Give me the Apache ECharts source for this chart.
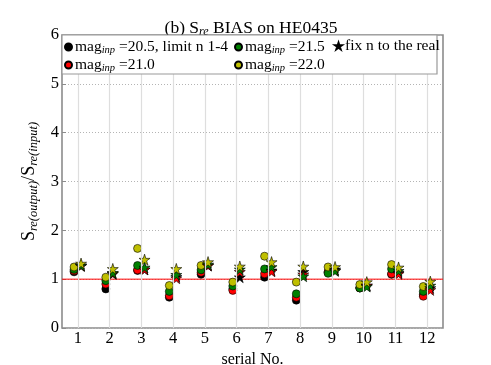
<!DOCTYPE html>
<html>
<head>
<meta charset="utf-8">
<script src="https://cdn.jsdelivr.net/npm/echarts@6/dist/echarts.min.js"></script>
<style>
  html, body { margin: 0; padding: 0; background: #fff; }
  #chart { width: 491px; height: 365px; }
</style>
</head>
<body>
<div id="chart"></div>
<script>
// serial numbers
const serial = [1, 2, 3, 4, 5, 6, 7, 8, 9, 10, 11, 12];
const yTicks = [0, 1, 2, 3, 4, 5, 6];
const unity = 1;

// circles: S_re(output)/S_re(input), n free
const mag205 = [1.15, 0.80, 1.18, 0.63, 1.10, 0.80, 1.04, 0.57, 1.14, 0.82, 1.10, 0.68];
const mag210 = [1.17, 0.90, 1.19, 0.66, 1.14, 0.77, 1.11, 0.63, 1.15, 0.82, 1.11, 0.65];
const mag215 = [1.20, 0.97, 1.28, 0.75, 1.19, 0.86, 1.21, 0.70, 1.12, 0.82, 1.21, 0.75];
const mag220 = [1.25, 1.04, 1.63, 0.87, 1.28, 0.94, 1.47, 0.94, 1.25, 0.89, 1.30, 0.85];

// stars: n fixed to the real value
const fix205 = [1.28, 1.11, 1.20, 1.05, 1.28, 1.04, 1.18, 1.15, 1.20, 0.87, 1.13, 0.82];
const fix210 = [1.27, 1.12, 1.20, 1.02, 1.28, 1.15, 1.16, 1.10, 1.18, 0.87, 1.11, 0.78];
const fix215 = [1.28, 1.13, 1.24, 1.09, 1.30, 1.20, 1.25, 1.06, 1.17, 0.85, 1.17, 0.87];
const fix220 = [1.32, 1.21, 1.40, 1.21, 1.35, 1.26, 1.35, 1.26, 1.25, 0.94, 1.24, 0.95];

const FONT = '"Liberation Serif", "DejaVu Serif", serif';
const STAR = 'path://M50 0 L61.17 34.63 L97.55 34.55 L68.07 55.87 L79.39 90.45 L50 69 L20.61 90.45 L31.93 55.87 L2.45 34.55 L38.83 34.63 Z';

const colors = { k: '#000000', r: '#ff0000', g: '#008000', y: '#bfbf00' };

function pts(vals, dx) {
  return vals.map((v, i) => [serial[i] + dx, v]);
}

function circleSeries(name, vals, color) {
  return {
    name: name,
    type: 'scatter',
    symbol: 'circle',
    symbolSize: 8,
    data: pts(vals, -0.12),
    itemStyle: { color: color, borderColor: '#000', borderWidth: 0.6, opacity: 1 },
    emphasis: { disabled: true },
    z: 3
  };
}

function starSeries(name, vals, color) {
  return {
    name: name,
    type: 'scatter',
    symbol: STAR,
    symbolSize: 11,
    data: pts(vals, 0.1),
    itemStyle: { color: color, borderColor: '#000', borderWidth: 0.6, opacity: 1 },
    emphasis: { disabled: true },
    z: 4
  };
}

const legendRich = {
  n: { fontFamily: FONT, fontSize: 15.5, color: '#000', lineHeight: 18 },
  s: { fontFamily: FONT, fontSize: 10.5, fontStyle: 'italic', color: '#000', lineHeight: 18, padding: [7, 0, 0, 0] }
};

const legendText = {
  'm205': '{n|mag}{s|inp}{n| =20.5, limit n 1-4}',
  'm210': '{n|mag}{s|inp}{n| =21.0}',
  'm215': '{n|mag}{s|inp}{n| =21.5}',
  'm220': '{n|mag}{s|inp}{n| =22.0}',
  'fix': '{n|fix n to the real}'
};

function legendAt(left, names, w) {
  return {
    left: left,
    top: 38,
    orient: 'vertical',
    padding: 0,
    itemWidth: w,
    itemHeight: w,
    itemGap: 0,
    z: 20,
    selectedMode: false,
    data: names,
    formatter: name => legendText[name],
    textStyle: { rich: legendRich, padding: [0, 0, 0, -2] }
  };
}

const chart = echarts.init(document.getElementById('chart'));
chart.setOption({
  animation: false,
  backgroundColor: '#fff',
  title: {
    text: '(b) S{s|re} BIAS on HE0435',
    left: 251,
    top: 19,
    padding: 0,
    textAlign: 'center',
    textStyle: {
      fontFamily: FONT, fontSize: 17.5, fontWeight: 'normal', color: '#000', lineHeight: 18,
      rich: {
        s: { fontFamily: FONT, fontSize: 12, fontStyle: 'italic', color: '#000', lineHeight: 18, padding: [8, 0, 0, 0] }
      }
    }
  },
  graphic: [{
    type: 'rect',
    z: 10,
    shape: { x: 62, y: 35, width: 375, height: 39 },
    style: { fill: '#fff', stroke: '#999', lineWidth: 1.2 }
  }],
  legend: [
    legendAt(64, [{ name: 'm205', icon: 'circle' }, { name: 'm210', icon: 'circle' }], 7),
    legendAt(234, [{ name: 'm215', icon: 'circle' }, { name: 'm220', icon: 'circle' }], 7),
    legendAt(334, [{ name: 'fix', icon: STAR, itemStyle: { color: '#000' } }], 7)
  ],
  grid: {
    left: 62, right: 48, top: 35, bottom: 37,
    outerBoundsMode: 'none',
    containLabel: false,
    show: true, borderColor: '#8c8c8c', borderWidth: 1.6
  },
  xAxis: {
    type: 'value',
    min: 0.5,
    max: 12.5,
    name: 'serial No.',
    nameLocation: 'middle',
    nameGap: 16,
    nameTextStyle: { fontFamily: FONT, fontSize: 16, color: '#000' },
    axisLine: { show: false },
    axisTick: { show: true, inside: true, length: 4, customValues: serial, lineStyle: { color: '#8c8c8c' } },
    axisLabel: {
      fontFamily: FONT, fontSize: 16.5, color: '#000', margin: 2,
      customValues: serial
    },
    splitLine: { show: false }
  },
  yAxis: {
    type: 'value',
    min: 0,
    max: 6,
    interval: 1,
    name: 'S{s|re(output)}/S{s|re(input)}',
    nameLocation: 'middle',
    nameGap: 21,
    nameTextStyle: {
      fontFamily: FONT, fontSize: 18, color: '#000', lineHeight: 20,
      rich: {
        s: { fontFamily: FONT, fontSize: 12.5, fontStyle: 'italic', color: '#000', lineHeight: 20, padding: [8, 0, 0, 0] }
      }
    },
    axisLine: { show: false },
    axisTick: { show: true, inside: true, length: 4, lineStyle: { color: '#8c8c8c' } },
    axisLabel: {
      fontFamily: FONT, fontSize: 16.5, color: '#000', margin: 3,
      formatter: v => (yTicks.includes(v) ? String(v) : '')
    },
    splitLine: { show: true, lineStyle: { color: '#b4b4b4', type: [1, 2], width: 1 } }
  },
  series: [
    {
      // vertical guides at each serial
      name: 'guides',
      type: 'scatter',
      data: [],
      silent: true,
      markLine: {
        silent: true,
        symbol: 'none',
        label: { show: false },
        lineStyle: { color: '#dedede', width: 1.2, type: 'solid' },
        data: serial.map(s => ({ xAxis: s }))
      },
      z: 1
    },
    {
      // unity line, drawn as a plain line series across the axis range
      name: 'unity',
      type: 'line',
      data: [[serial[0] - 0.5, unity], [serial[serial.length - 1] + 0.5, unity]],
      symbol: 'none',
      silent: true,
      lineStyle: { color: '#ff0000', width: 1, type: 'solid' },
      itemStyle: { color: '#ff0000' },
      emphasis: { disabled: true },
      z: 2
    },
    circleSeries('m205', mag205, colors.k),
    circleSeries('m210', mag210, colors.r),
    circleSeries('m215', mag215, colors.g),
    circleSeries('m220', mag220, colors.y),
    starSeries('fix', fix205, colors.k),
    starSeries('fix210', fix210, colors.r),
    starSeries('fix215', fix215, colors.g),
    starSeries('fix220', fix220, colors.y)
  ]
});
</script>
</body>
</html>
